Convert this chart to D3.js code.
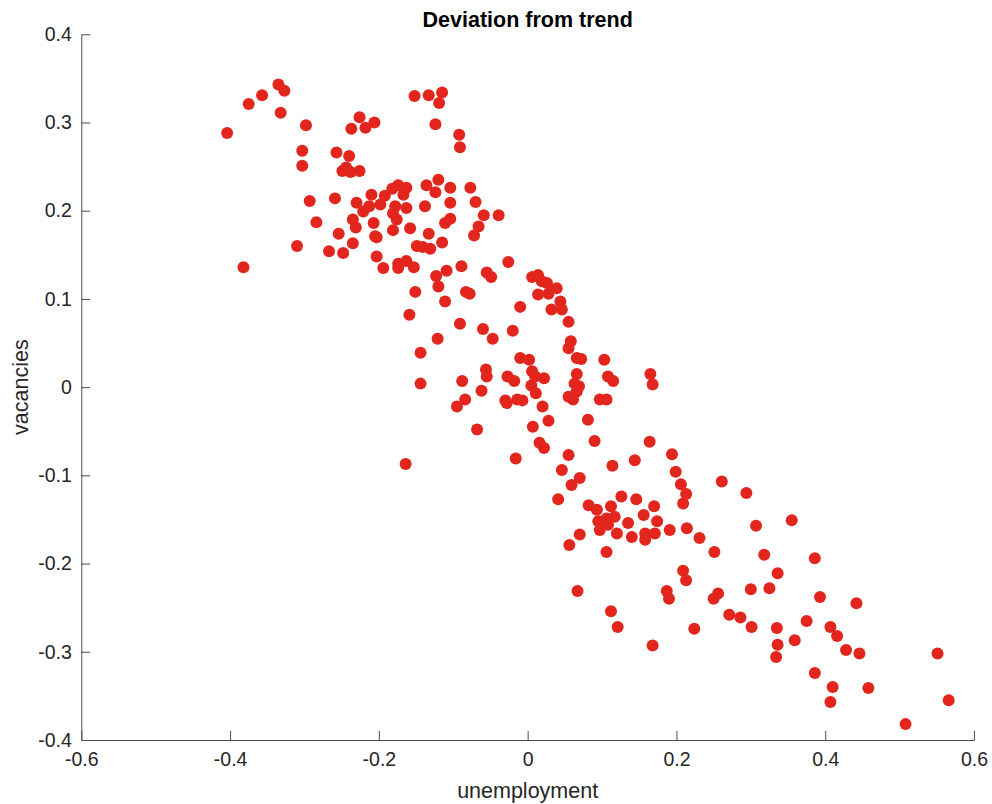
<!DOCTYPE html>
<html>
<head>
<meta charset="utf-8">
<script src="https://cdn.jsdelivr.net/npm/d3@7"></script>
<style>
	body { margin: 0; background: #fff; }
	svg text { font-family: "Liberation Sans", Arial, Helvetica, sans-serif; }
</style>
</head>
<body>
<div id="chart"></div>
<script>
"use strict";

//---- Data (deviation from trend)
const unemployment = [
	-0.335, -0.327, -0.357, -0.375, -0.332, -0.404, -0.298, -0.152, -0.133, -0.115,
	-0.119, -0.124, -0.092, -0.091, -0.226, -0.237, -0.218, -0.206, -0.303, -0.303,
	-0.257, -0.240, -0.249, -0.238, -0.226, -0.244, -0.293, -0.259, -0.230, -0.210,
	-0.192, -0.198, -0.221, -0.213, -0.174, -0.163, -0.167, -0.178, -0.163, -0.181,
	-0.176, -0.207, -0.181, -0.158, -0.205, -0.136, -0.120, -0.124, -0.104, -0.104,
	-0.138, -0.104, -0.111, -0.133, -0.149, -0.131, -0.141, -0.115, -0.077, -0.070,
	-0.059, -0.039, -0.066, -0.072, -0.235, -0.231, -0.254, -0.203, -0.235, -0.284,
	-0.310, -0.267, -0.248, -0.203, -0.194, -0.174, -0.163, -0.174, -0.153, -0.382,
	-0.123, -0.109, -0.089, -0.055, -0.049, -0.026, -0.182, -0.151, -0.120, -0.111,
	-0.083, -0.078, -0.159, -0.091, -0.060, -0.047, -0.121, -0.144, -0.144, -0.020,
	-0.010, 0.006, 0.014, 0.026, 0.039, 0.014, 0.028, 0.044, 0.032, 0.046,
	0.055, 0.019, 0.058, 0.055, 0.066, 0.072, 0.103, -0.010, 0.002, -0.056,
	-0.055, 0.006, 0.010, 0.022, -0.027, -0.018, 0.005, 0.011, 0.066, 0.063,
	0.069, 0.066, 0.055, 0.061, 0.108, 0.115, 0.097, 0.106, -0.088, -0.062,
	-0.084, -0.095, -0.030, -0.028, -0.014, -0.007, 0.020, 0.028, 0.007, 0.081,
	-0.068, 0.016, 0.022, 0.090, 0.055, -0.016, -0.164, 0.046, 0.114, 0.144,
	0.165, 0.168, 0.164, 0.194, 0.199, 0.070, 0.059, 0.206, 0.213, 0.209,
	0.261, 0.294, 0.041, 0.082, 0.093, 0.112, 0.126, 0.146, 0.170, 0.156,
	0.095, 0.106, 0.117, 0.097, 0.108, 0.120, 0.135, 0.174, 0.070, 0.140,
	0.158, 0.171, 0.158, 0.106, 0.191, 0.214, 0.231, 0.056, 0.251, 0.307,
	0.355, 0.318, 0.386, 0.209, 0.213, 0.336, 0.300, 0.325, 0.393, 0.067,
	0.187, 0.190, 0.256, 0.250, 0.112, 0.121, 0.271, 0.286, 0.301, 0.224,
	0.335, 0.375, 0.359, 0.336, 0.168, 0.442, 0.407, 0.416, 0.334, 0.428,
	0.446, 0.551, 0.386, 0.410, 0.458, 0.407, 0.566, 0.508
];

const vacancies = [
	0.343, 0.336, 0.331, 0.321, 0.311, 0.288, 0.297, 0.330, 0.331, 0.334,
	0.322, 0.298, 0.286, 0.272, 0.306, 0.293, 0.294, 0.300, 0.268, 0.251,
	0.266, 0.262, 0.245, 0.244, 0.245, 0.249, 0.211, 0.214, 0.209, 0.218,
	0.217, 0.207, 0.199, 0.205, 0.229, 0.226, 0.218, 0.205, 0.203, 0.197,
	0.190, 0.186, 0.178, 0.180, 0.171, 0.229, 0.235, 0.221, 0.226, 0.209,
	0.205, 0.191, 0.186, 0.174, 0.160, 0.157, 0.159, 0.164, 0.226, 0.210,
	0.195, 0.195, 0.182, 0.172, 0.190, 0.181, 0.174, 0.170, 0.163, 0.187,
	0.160, 0.154, 0.152, 0.148, 0.135, 0.140, 0.143, 0.135, 0.136, 0.136,
	0.126, 0.132, 0.137, 0.130, 0.125, 0.142, 0.225, 0.108, 0.114, 0.097,
	0.108, 0.106, 0.082, 0.072, 0.066, 0.055, 0.055, 0.039, 0.004, 0.064,
	0.091, 0.125, 0.127, 0.118, 0.112, 0.105, 0.106, 0.097, 0.088, 0.088,
	0.074, 0.120, 0.052, 0.044, 0.033, 0.032, 0.031, 0.033, 0.031, 0.020,
	0.012, 0.018, 0.012, 0.010, 0.012, 0.007, 0.002, -0.007, 0.015, 0.004,
	0.001, -0.005, -0.011, -0.014, 0.012, 0.007, -0.014, -0.014, 0.007, -0.004,
	-0.014, -0.022, -0.015, -0.018, -0.014, -0.015, -0.022, -0.038, -0.045, -0.037,
	-0.048, -0.063, -0.069, -0.061, -0.077, -0.081, -0.087, -0.094, -0.089, -0.083,
	0.015, 0.003, -0.062, -0.076, -0.096, -0.103, -0.111, -0.110, -0.121, -0.132,
	-0.107, -0.120, -0.127, -0.134, -0.139, -0.135, -0.124, -0.127, -0.135, -0.145,
	-0.152, -0.149, -0.147, -0.162, -0.156, -0.166, -0.154, -0.152, -0.167, -0.170,
	-0.166, -0.166, -0.173, -0.187, -0.162, -0.160, -0.171, -0.179, -0.187, -0.157,
	-0.151, -0.190, -0.194, -0.208, -0.219, -0.211, -0.229, -0.228, -0.238, -0.231,
	-0.231, -0.240, -0.234, -0.240, -0.254, -0.272, -0.258, -0.261, -0.272, -0.274,
	-0.273, -0.265, -0.287, -0.292, -0.293, -0.245, -0.272, -0.282, -0.306, -0.298,
	-0.302, -0.302, -0.324, -0.340, -0.341, -0.357, -0.355, -0.382
];

const xTicks = [-0.6, -0.4, -0.2, 0, 0.2, 0.4, 0.6];
const yTicks = [-0.4, -0.3, -0.2, -0.1, 0, 0.1, 0.2, 0.3, 0.4];

const chartTitle = 'Deviation from trend';
const xLabel = 'unemployment';
const yLabel = 'vacancies';

//---- Layout
const width = 992, height = 804;
const plot = { left: 81.3, right: 974, top: 34.3, bottom: 740 };
const axisColor = '#4d4d4d', textColor = '#262626', dotColor = '#e2261d';
const tickFont = 19.5, labelFont = 21.5;

const points = unemployment.map((u, i) => ({ u: u, v: vacancies[i] }));

const x = d3.scaleLinear().domain([-0.6, 0.6]).range([plot.left, plot.right]);
const y = d3.scaleLinear().domain([-0.4, 0.4]).range([plot.bottom, plot.top]);

// matlab style labels: "0" and a plain hyphen for negatives
const tickText = d => d3.format('~g')(d).replace('\u2212', '-');

let svg = d3.select('#chart').append('svg')
	.attr('width', width)
	.attr('height', height)
	.attr('viewBox', [0, 0, width, height]);

//---- Axes (ticks point inward)
function styleAxis(g) {
	g.attr('font-size', tickFont)
		.attr('font-family', '"Liberation Sans", Arial, Helvetica, sans-serif');
	g.select('.domain').attr('stroke', axisColor);
	g.selectAll('.tick line').attr('stroke', axisColor);
	g.selectAll('.tick text').attr('fill', textColor);
}

svg.append('g')
	.attr('transform', `translate(0,${plot.bottom})`)
	.call(d3.axisBottom(x)
		.tickValues(xTicks)
		.tickFormat(tickText)
		.tickSizeInner(-9)
		.tickSizeOuter(0)
		.tickPadding(12))
	.call(styleAxis);

svg.append('g')
	.attr('transform', `translate(${plot.left},0)`)
	.call(d3.axisLeft(y)
		.tickValues(yTicks)
		.tickFormat(tickText)
		.tickSizeInner(-9)
		.tickSizeOuter(0)
		.tickPadding(9.5))
	.call(styleAxis);

//---- Points
svg.append('g')
	.selectAll('circle')
	.data(points)
	.join('circle')
	.attr('cx', d => x(d.u))
	.attr('cy', d => y(d.v))
	.attr('r', 6)
	.attr('fill', dotColor);

//---- Text
svg.append('text')
	.attr('x', (plot.left + plot.right) / 2)
	.attr('y', 26.5)
	.attr('text-anchor', 'middle')
	.attr('font-size', labelFont)
	.attr('font-weight', 'bold')
	.attr('fill', '#000')
	.text(chartTitle);

svg.append('text')
	.attr('x', (plot.left + plot.right) / 2)
	.attr('y', 798)
	.attr('text-anchor', 'middle')
	.attr('font-size', labelFont)
	.attr('fill', textColor)
	.text(xLabel);

svg.append('text')
	.attr('transform', `translate(27.5,${(plot.top + plot.bottom) / 2}) rotate(-90)`)
	.attr('text-anchor', 'middle')
	.attr('font-size', labelFont)
	.attr('fill', textColor)
	.text(yLabel);
</script>
</body>
</html>
